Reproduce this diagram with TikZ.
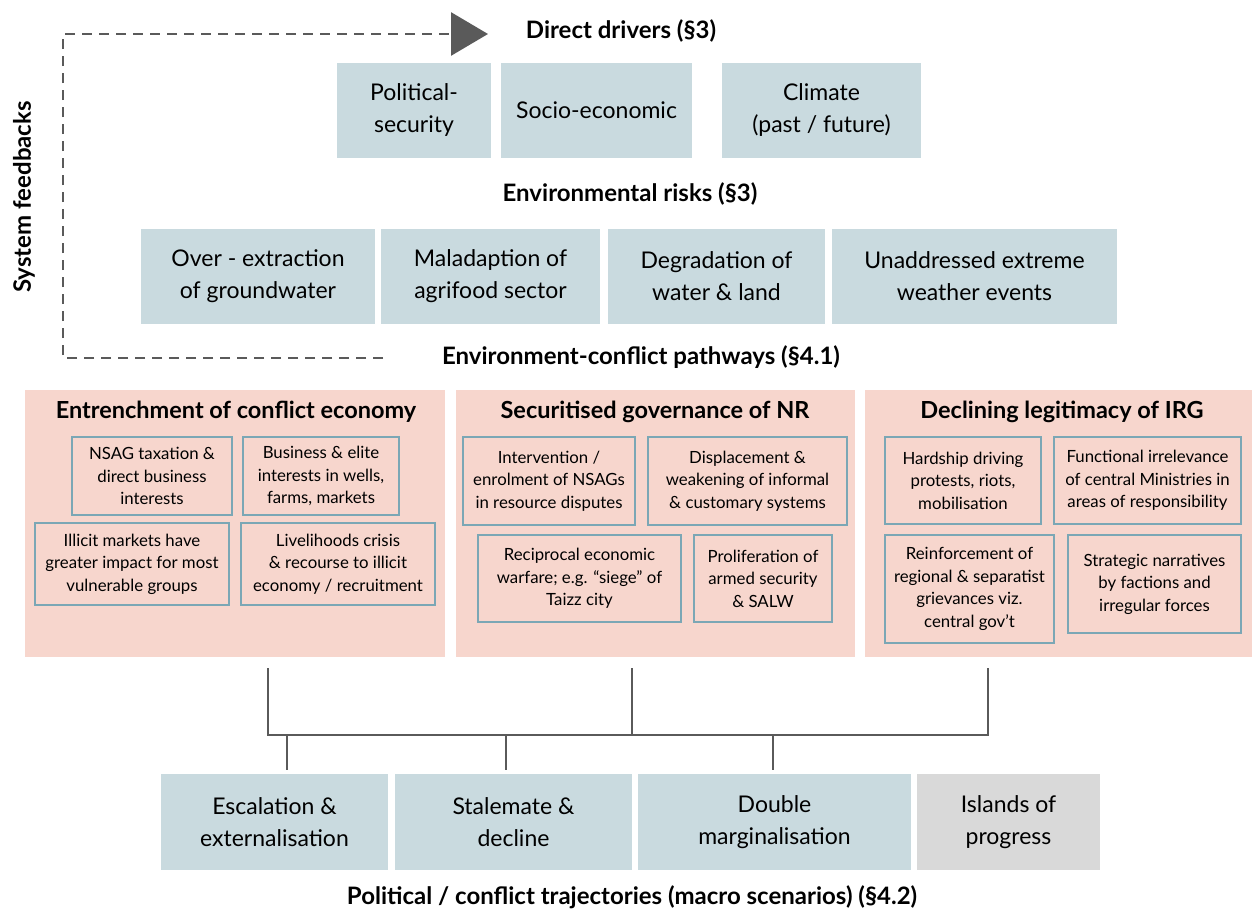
\documentclass[tikz,border=0pt]{standalone}
\usepackage{fontspec}
\setmainfont{Lato}
\usetikzlibrary{arrows.meta}
\definecolor{boxblue}{HTML}{C9DADF}
\definecolor{boxpink}{HTML}{F7D6CD}
\definecolor{boxgray}{HTML}{D9D9D9}
\definecolor{edgeblue}{HTML}{7BA7B5}
\definecolor{linegray}{HTML}{5A5A5A}
\tikzset{
  bigbox/.style={fill=boxblue, draw=none, align=center, inner sep=0pt, font=\fontsize{23}{32}\selectfont},
  pinkbox/.style={fill=boxpink, draw=none, inner sep=0pt},
  innerbox/.style={draw=edgeblue, line width=2.3pt, align=center, inner sep=0pt, font=\fontsize{16.8}{22.5}\selectfont},
  sectitle/.style={font=\bfseries\fontsize{24}{28}\selectfont, inner sep=0pt},
  pinktitle/.style={font=\bfseries\fontsize{23.5}{28}\selectfont, inner sep=0pt},
  conn/.style={draw=linegray, line width=2.7pt},
  fb/.style={draw=linegray, line width=2.8pt, dash pattern=on 10pt off 7pt}
}
\begin{document}
\begin{tikzpicture}[x=1pt,y=-1pt]
\useasboundingbox (0,0) rectangle (1252,910);
% titles
\node[sectitle] (t1) at (621,31) {Direct drivers (§3)};
\node[sectitle] (t2) at (630,194) {Environmental risks (§3)};
\node[sectitle] (t3) at (641,357) {Environment-conflict pathways (§4.1)};
\node[sectitle] (t4) at (632,897) {Political / conflict trajectories (macro scenarios) (§4.2)};
\node[sectitle, rotate=90] (tf) at (24,197) {System feedbacks};
% direct drivers
\node[bigbox, minimum width=154pt, minimum height=95pt] (pol) at (414,110.5) {Political-\\security};
\node[bigbox, minimum width=191pt, minimum height=95pt] (soc) at (596.5,110.5) {Socio-economic};
\node[bigbox, minimum width=199pt, minimum height=95pt] (cli) at (821.5,110.5) {Climate\\(past / future)};
% environmental risks
\node[bigbox, minimum width=234pt, minimum height=95pt] (ovr) at (258,276.5) {Over - extraction\\of groundwater};
\node[bigbox, minimum width=219pt, minimum height=95pt] (mal) at (490.5,276.5) {Maladaption of\\agrifood sector};
\node[bigbox, minimum width=217pt, minimum height=95pt] (deg) at (716.5,276.5) {Degradation of\\water \& land};
\node[bigbox, minimum width=285pt, minimum height=95pt] (una) at (974.5,276.5) {Unaddressed extreme\\weather events};
% feedback loop
\coordinate (fbs) at (383,358);
\coordinate (fbc1) at (63,358);
\coordinate (fbc2) at (63,34);
\coordinate (fbe) at (488,34);
\draw[fb, -{Triangle[length=37pt,width=43pt]}] (fbs) -- (fbc1) -- (fbc2) -- (fbe);
% pathway boxes
\node[pinkbox, minimum width=420pt, minimum height=267pt] (p1) at (235,523.5) {};
\node[pinkbox, minimum width=399pt, minimum height=267pt] (p2) at (655.5,523.5) {};
\node[pinkbox, minimum width=387pt, minimum height=267pt] (p3) at (1058.5,523.5) {};
\node[pinktitle] (h1) at (236,412) {Entrenchment of conflict economy};
\node[pinktitle] (h2) at (655,412) {Securitised governance of NR};
\node[pinktitle] (h3) at (1062,412) {Declining legitimacy of IRG};
% inner boxes 1
\node[innerbox, minimum width=160pt, minimum height=78pt] (i11) at (152,476) {NSAG taxation \&\\direct business\\interests};
\node[innerbox, minimum width=156pt, minimum height=78pt] (i12) at (321,476) {Business \& elite\\interests in wells,\\farms, markets};
\node[innerbox, minimum width=194pt, minimum height=82pt] (i13) at (132,564) {Illicit markets have\\greater impact for most\\vulnerable groups};
\node[innerbox, minimum width=194pt, minimum height=82pt] (i14) at (338,564) {Livelihoods crisis\\\& recourse to illicit\\economy / recruitment};
% inner boxes 2
\node[innerbox, minimum width=172pt, minimum height=88pt] (i21) at (549,481) {Intervention /\\enrolment of NSAGs\\in resource disputes};
\node[innerbox, minimum width=199pt, minimum height=88pt] (i22) at (747.5,481) {Displacement \&\\weakening of informal\\\& customary systems};
\node[innerbox, minimum width=203pt, minimum height=87pt] (i23) at (579.5,578.5) {Reciprocal economic\\warfare; e.g. ``siege'' of\\Taizz city};
\node[innerbox, minimum width=138pt, minimum height=87pt] (i24) at (763,578.5) {Proliferation of\\armed security\\\& SALW};
% inner boxes 3
\node[innerbox, minimum width=156pt, minimum height=87pt] (i31) at (963,480.5) {Hardship driving\\protests, riots,\\mobilisation};
\node[innerbox, minimum width=187pt, minimum height=87pt] (i32) at (1147.5,480.5) {Functional irrelevance\\of central Ministries in\\areas of responsibility};
\node[innerbox, minimum width=169pt, minimum height=108pt] (i33) at (969.5,589) {Reinforcement of\\regional \& separatist\\grievances viz.\\central gov’t};
\node[innerbox, minimum width=173pt, minimum height=98pt] (i34) at (1154.5,584) {Strategic narratives\\by factions and\\irregular forces};
% trajectories
\node[bigbox, minimum width=227pt, minimum height=96pt] (b1) at (274.5,822) {Escalation \&\\externalisation};
\node[bigbox, minimum width=237pt, minimum height=96pt] (b2) at (513.5,822) {Stalemate \&\\decline};
\node[bigbox, minimum width=273pt, minimum height=96pt] (b3) at (774.5,822) {Double\\marginalisation};
\node[bigbox, fill=boxgray, minimum width=183pt, minimum height=96pt] (b4) at (1008.5,822) {Islands of\\progress};
% connectors
\coordinate (j1) at (268,735);
\coordinate (j2) at (632,735);
\coordinate (j3) at (988,735);
\draw[conn] ([yshift=-11pt]p1.south -| j1) -- (j1) -- (j3) -- ([yshift=-11pt]p3.south -| j3);
\draw[conn] ([yshift=-11pt]p2.south -| j2) -- (j2);
\draw[conn] (j1 -| 287,0) -- ([yshift=4pt]b1.north -| 287,0);
\draw[conn] (j1 -| 506,0) -- ([yshift=4pt]b2.north -| 506,0);
\draw[conn] (j1 -| 773,0) -- ([yshift=4pt]b3.north -| 773,0);
\end{tikzpicture}
\end{document}
